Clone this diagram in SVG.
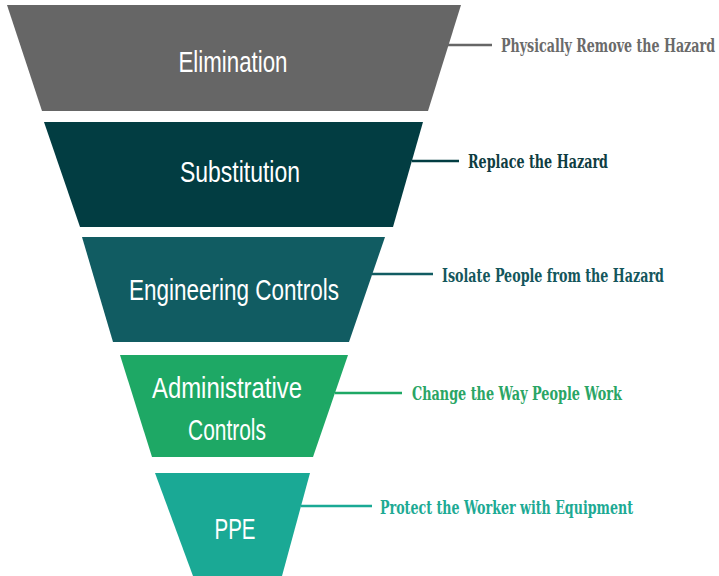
<svg xmlns="http://www.w3.org/2000/svg" width="719" height="576" viewBox="0 0 719 576">
<style>
.lvl{font-family:"Liberation Sans","DejaVu Sans",sans-serif;font-size:29px;fill:#ffffff;text-anchor:middle}
.lbl{font-family:"DejaVu Serif","Liberation Serif",serif;font-weight:bold;font-size:18px}
.con{stroke-width:2.5;fill:none}
</style>
<rect width="719" height="576" fill="#ffffff"/>
<g id="elimination">
<polygon points="7,5 461,5 428,111 42,111" fill="#666666"/>
<text class="lvl" x="233" y="72" textLength="109" lengthAdjust="spacingAndGlyphs">Elimination</text>
</g>
<g id="substitution">
<polygon points="44,122 423,122 393,227 80,227" fill="#023d42"/>
<text class="lvl" x="240" y="182" textLength="120" lengthAdjust="spacingAndGlyphs">Substitution</text>
</g>
<g id="engineering">
<polygon points="82,237 385,237 349,342 113,342" fill="#115c62"/>
<text class="lvl" x="234" y="300" textLength="210" lengthAdjust="spacingAndGlyphs">Engineering Controls</text>
</g>
<g id="administrative">
<polygon points="120,355 348,355 313,457 152,457" fill="#1ea865"/>
<text class="lvl" x="227" y="398" textLength="150" lengthAdjust="spacingAndGlyphs">Administrative</text>
<text class="lvl" x="227" y="440" textLength="78" lengthAdjust="spacingAndGlyphs">Controls</text>
</g>
<g id="ppe">
<polygon points="155,473 310,473 282,576 193,576" fill="#1aa995"/>
<text class="lvl" x="235" y="539" textLength="41" lengthAdjust="spacingAndGlyphs">PPE</text>
</g>
<g id="connectors">
<line class="con" x1="448" y1="45" x2="492" y2="45" stroke="#666666"/>
<line class="con" x1="412" y1="161" x2="459" y2="161" stroke="#023d42"/>
<line class="con" x1="372" y1="274" x2="433" y2="274" stroke="#115c62"/>
<line class="con" x1="335" y1="393" x2="402" y2="393" stroke="#1ea865"/>
<line class="con" x1="301" y1="506" x2="372" y2="506" stroke="#1aa995"/>
</g>
<g id="labels">
<text class="lbl" x="501" y="52" fill="#6a6a6a" textLength="214" lengthAdjust="spacingAndGlyphs">Physically Remove the Hazard</text>
<text class="lbl" x="468" y="168" fill="#0f3d42" textLength="140" lengthAdjust="spacingAndGlyphs">Replace the Hazard</text>
<text class="lbl" x="442" y="282" fill="#14565c" textLength="222" lengthAdjust="spacingAndGlyphs">Isolate People from the Hazard</text>
<text class="lbl" x="412" y="400" fill="#2aa565" textLength="210" lengthAdjust="spacingAndGlyphs">Change the Way People Work</text>
<text class="lbl" x="380" y="514" fill="#1daa94" textLength="253" lengthAdjust="spacingAndGlyphs">Protect the Worker with Equipment</text>
</g>
</svg>
